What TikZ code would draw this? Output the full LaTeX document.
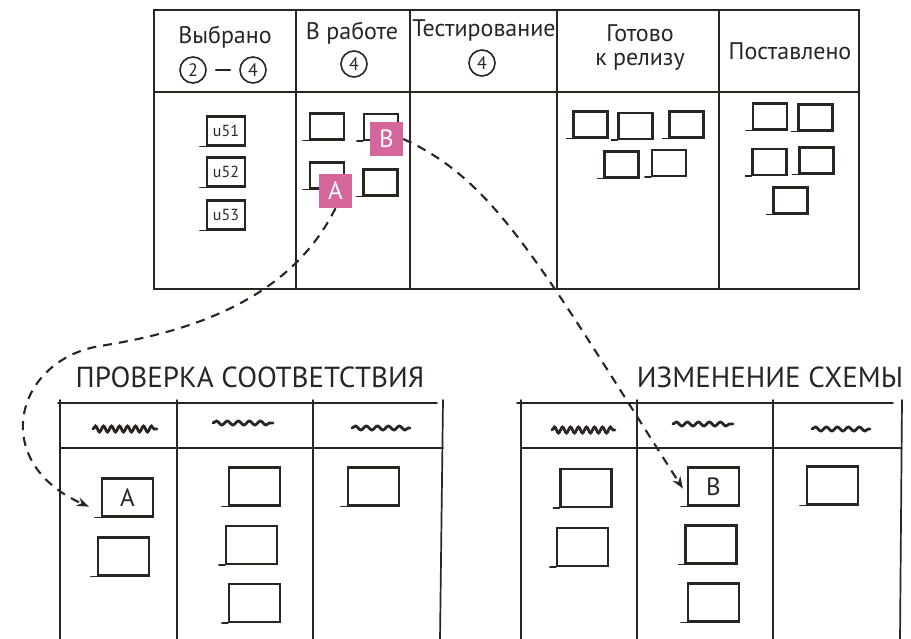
\documentclass[tikz,border=0pt]{standalone}
\usepackage{fontspec}
\setmainfont{PT Sans}
\usetikzlibrary{arrows.meta,decorations.pathmorphing}
\definecolor{ink}{HTML}{2B2521}
\definecolor{tagpink}{HTML}{D5669B}

\tikzset{
  board/.style={draw=ink, line width=1.7pt, line cap=round},
  head/.style={text=ink, font=\fontsize{24}{26}\selectfont, inner sep=0pt},
  title/.style={text=ink, font=\fontsize{29}{32}\selectfont, inner sep=0pt},
  numcirc/.style={circle, draw=ink, line width=1.6pt, minimum size=26pt,
    inner sep=0pt, text=ink, font=\fontsize{18}{18}\selectfont},
  card/.style={draw=ink, line width=2.2pt, inner sep=0pt, text=ink,
    append after command={\pgfextra{\let\cardnode\tikzlastnode
      \draw[ink, line width=1.6pt, line cap=round]
        (\cardnode.south west) -- ++(-6pt,0pt);}}},
  smallcard/.style={card, minimum width=34pt, minimum height=26pt},
  storycard/.style={card, minimum width=38pt, minimum height=29pt,
    font=\fontsize{16}{16}\selectfont},
  bigcard/.style={card, minimum width=51pt, minimum height=38pt,
    font=\fontsize{25}{25}\selectfont},
  tag/.style={fill=tagpink, minimum width=33pt, minimum height=34pt,
    inner sep=0pt, text=white, font=\fontsize{25}{25}\selectfont},
  squig/.style={draw=ink, line width=2.8pt, line cap=round, decorate,
    decoration={snake, amplitude=2pt, segment length=11pt}},
  scribble/.style={squig, decoration={snake, amplitude=3pt, segment length=8pt}},
  flow/.style={draw=ink, line width=2.1pt, dash pattern=on 9pt off 7pt,
    -{Stealth[length=12pt, width=9pt]}},
}

\begin{document}
\begin{tikzpicture}[x=1pt, y=-1pt]
\useasboundingbox (0,0) rectangle (911,638);

% ---------- main board ----------
\draw[board] (154,10) rectangle (859,289);
\draw[board] (154,92) -- (859,92);
\foreach \cx in {296,410,557,719} \draw[board] (\cx,10) -- (\cx,289);

% column headings
\node[head] (hsel) at (225,37) {Выбрано};
\node[numcirc] (lo) at (193,70) {2};
\node[numcirc] (hi) at (253,70) {4};
\draw[ink, line width=2pt, line cap=round, shorten <=9pt, shorten >=9pt] (lo) -- (hi);

\node[head] (hwork) at (352,33) {В работе};
\node[numcirc] (wlim) at (354,64) {4};

\node[head] (htest) at (484,30) {Тестирование};
\node[numcirc] (tlim) at (482,63) {4};

\node[head] (hready) at (640,33) {Готово};
\node[head] (hready2) at (640,62) {к релизу};

\node[head] (hdone) at (790,51) {Поставлено};

% selected stories
\node[storycard] (u1) at (226,131) {u51};
\node[storycard] (u2) at (226,172) {u52};
\node[storycard] (u3) at (226,215) {u53};

% in progress
\node[smallcard] (w1) at (327,126.5) {};
\node[smallcard] (w2) at (381,127) {};
\node[smallcard] (w3) at (327,175.5) {};
\node[smallcard] (w4) at (380.5,182.5) {};
\node[tag] (tagB) at (386.5,139) {B};
\node[tag] (tagA) at (335.5,191) {A};

% ready for release
\node[smallcard] (r1) at (590.5,124.5) {};
\node[smallcard] (r2) at (635.5,126) {};
\node[smallcard] (r3) at (686.5,124.5) {};
\node[smallcard] (r4) at (621.5,164.5) {};
\node[smallcard] (r5) at (669,163) {};

% delivered
\node[smallcard] (d1) at (770,116.5) {};
\node[smallcard] (d2) at (815.5,117.5) {};
\node[smallcard] (d3) at (769.5,162) {};
\node[smallcard] (d4) at (816.5,160.5) {};
\node[smallcard] (d5) at (790.5,200.5) {};

% ---------- compliance check board ----------
\node[title] (tcheck) at (250,377) {ПРОВЕРКА СООТВЕТСТВИЯ};
\draw[board] (58,403) -- (437,403);
\draw[board] (60,448) -- (443,448);
\foreach \cx in {60,177,313} \draw[board] (\cx,400) -- (\cx,640);
\draw[board] (443,400) -- (440,640);
\draw[scribble] (93,429) -- (157,429);
\draw[squig] (213,423) -- (273,423);
\draw[squig] (352,428) -- (410,428);

\node[bigcard] (cA) at (127.5,497.5) {A};
\node[bigcard] (c2) at (123.5,556.5) {};
\node[bigcard] (c3) at (254.5,486.5) {};
\node[bigcard] (c4) at (251.5,545) {};
\node[bigcard] (c5) at (254.5,603) {};
\node[bigcard] (c6) at (373.5,486.5) {};

% ---------- schema change board ----------
\node[title] (tschema) at (770,377) {ИЗМЕНЕНИЕ СХЕМЫ};
\draw[board] (517,403) -- (893,403);
\draw[board] (521,448) -- (902,448);
\foreach \cx in {521,637,773} \draw[board] (\cx,400) -- (\cx,640);
\draw[board] (902,400) -- (900,640);
\draw[scribble] (552,430) -- (615,430);
\draw[squig] (673,424) -- (733,424);
\draw[squig] (812,429) -- (870,429);

\node[bigcard] (s1) at (586,488) {};
\node[bigcard] (s2) at (582.5,547) {};
\node[bigcard] (sB) at (713.5,486.5) {B};
\node[bigcard] (s4) at (711,544.5) {};
\node[bigcard] (s5) at (713.5,602.5) {};
\node[bigcard] (s6) at (832.5,485.5) {};

% ---------- moves between boards ----------
\draw[flow] (tagA.south) .. controls (290,300) and (190,332) .. (100,346)
  .. controls (15,360) and (-12,462) .. ([xshift=-12pt, yshift=11pt]cA.south west);
\draw[flow] (tagB.east) .. controls (495,180) and (540,265)
  .. ([xshift=-4pt, yshift=18pt]sB.south west);

\end{tikzpicture}
\end{document}
